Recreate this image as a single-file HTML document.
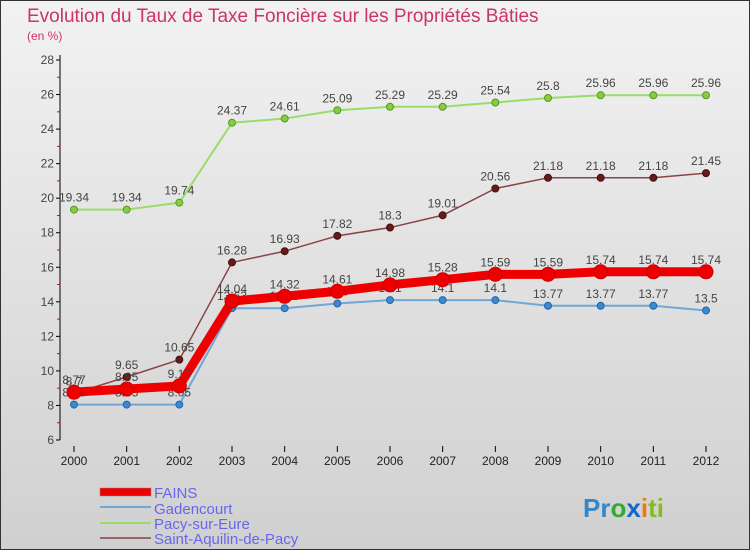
<!DOCTYPE html>
<html><head><meta charset="utf-8"><style>
html,body{margin:0;padding:0}
body{width:750px;height:550px;overflow:hidden;font-family:"Liberation Sans",sans-serif}
</style></head><body>
<svg id="c" width="750" height="550" xmlns="http://www.w3.org/2000/svg">
<defs><linearGradient id="bg" x1="0" y1="0" x2="0" y2="1"><stop offset="0" stop-color="#f2f2f2"/><stop offset="1" stop-color="#d0d0d0"/></linearGradient></defs>
<rect x="0.5" y="0.5" width="749" height="549" fill="url(#bg)" stroke="#333"/>
<text x="27" y="22" font-size="19" fill="#cc3366">Evolution du Taux de Taxe Foncière sur les Propriétés Bâties</text>
<text x="27" y="40" font-size="12" fill="#cc3366">(en %)</text>
<g id="axes"></g><g id="series"></g>
<g>
<rect x="100" y="488" width="51" height="8" fill="#e00" stroke="#888" stroke-width="0.5"/>
<text x="154" y="498" font-size="15" fill="#6666ee">FAINS</text>
<line x1="100" y1="507" x2="151" y2="507" stroke="#6fa8d6" stroke-width="2"/>
<text x="154" y="514" font-size="15" fill="#6666ee">Gadencourt</text>
<line x1="100" y1="523" x2="151" y2="523" stroke="#99dd66" stroke-width="2"/>
<text x="154" y="529" font-size="15" fill="#6666ee">Pacy-sur-Eure</text>
<line x1="100" y1="538" x2="151" y2="538" stroke="#996666" stroke-width="2"/>
<text x="154" y="544" font-size="15" fill="#6666ee">Saint-Aquilin-de-Pacy</text>
</g>
<text x="583" y="517" font-size="26" font-weight="bold"><tspan fill="#3388cc">Pr</tspan><tspan fill="#33aa33">o</tspan><tspan fill="#1166cc">x</tspan><tspan fill="#ee7711">i</tspan><tspan fill="#88bb22">ti</tspan></text>
</svg>
<script>
const years=[2000,2001,2002,2003,2004,2005,2006,2007,2008,2009,2010,2011,2012];
const fains=[8.77,8.95,9.13,14.04,14.32,14.61,14.98,15.28,15.59,15.59,15.74,15.74,15.74];
const gadencourt=[8.05,8.05,8.05,13.63,13.63,13.9,14.1,14.1,14.1,13.77,13.77,13.77,13.5];
const pacy=[19.34,19.34,19.74,24.37,24.61,25.09,25.29,25.29,25.54,25.8,25.96,25.96,25.96];
const saint=[8.7,9.65,10.65,16.28,16.93,17.82,18.3,19.01,20.56,21.18,21.18,21.18,21.45];
const yTicks=[6,8,10,12,14,16,18,20,22,24,26,28];
const NS='http://www.w3.org/2000/svg';
const X=i=>74+i*(706-74)/(years.length-1);
const Y=v=>440-(v-6)*380/22;
function mk(t,a,p){const e=document.createElementNS(NS,t);for(const k in a)e.setAttribute(k,a[k]);p.appendChild(e);return e;}
const ax=document.getElementById('axes');
let l=mk('line',{x1:60,y1:55,x2:60,y2:440,stroke:'#000'},ax);

yTicks.forEach(v=>{
 mk('line',{x1:56,y1:Y(v),x2:60,y2:Y(v),stroke:'#000'},ax);
 if(v<28)mk('line',{x1:57,y1:Y(v+1),x2:60,y2:Y(v+1),stroke:'#e00'},ax);
 const t=mk('text',{x:54,y:Y(v)+4,'font-size':12,'text-anchor':'end',fill:'#444'},ax);t.textContent=v;
 
});
years.forEach((y,i)=>{
 mk('line',{x1:X(i),y1:446,x2:X(i),y2:452,stroke:'#000'},ax);
 const t=mk('text',{x:X(i),y:465,'font-size':12,'text-anchor':'middle',fill:'#222'},ax);t.textContent=y;
 
});
const sg=document.getElementById('series');
function draw(vals,name,color,w,r,dot,stroke){
 const g=mk('g',{},sg);
 
 mk('polyline',{points:vals.map((v,i)=>X(i)+','+Y(v)).join(' '),fill:'none',stroke:color,'stroke-width':w,'stroke-linejoin':'round'},g);
 vals.forEach((v,i)=>{
  const c=mk('circle',{cx:X(i),cy:Y(v),r:r,fill:dot,stroke:stroke,'stroke-width':1},g);
  
  const t=mk('text',{x:X(i),y:Y(v)-8,'font-size':12,'text-anchor':'middle',fill:'#444'},g);t.textContent=v;
  
 });
}
draw(gadencourt,'gadencourt','#6fa8d6',2,3.5,'#3a8ad0','#2266aa');
draw(pacy,'pacy','#99dd66',2,3.5,'#88cc44','#559922');
draw(saint,'saint','#884444',1.5,3.5,'#661a1a','#441111');
draw(fains,'fains','#ee0000',9,7,'#ee0000','#cc0000');
</script>
</body></html>
